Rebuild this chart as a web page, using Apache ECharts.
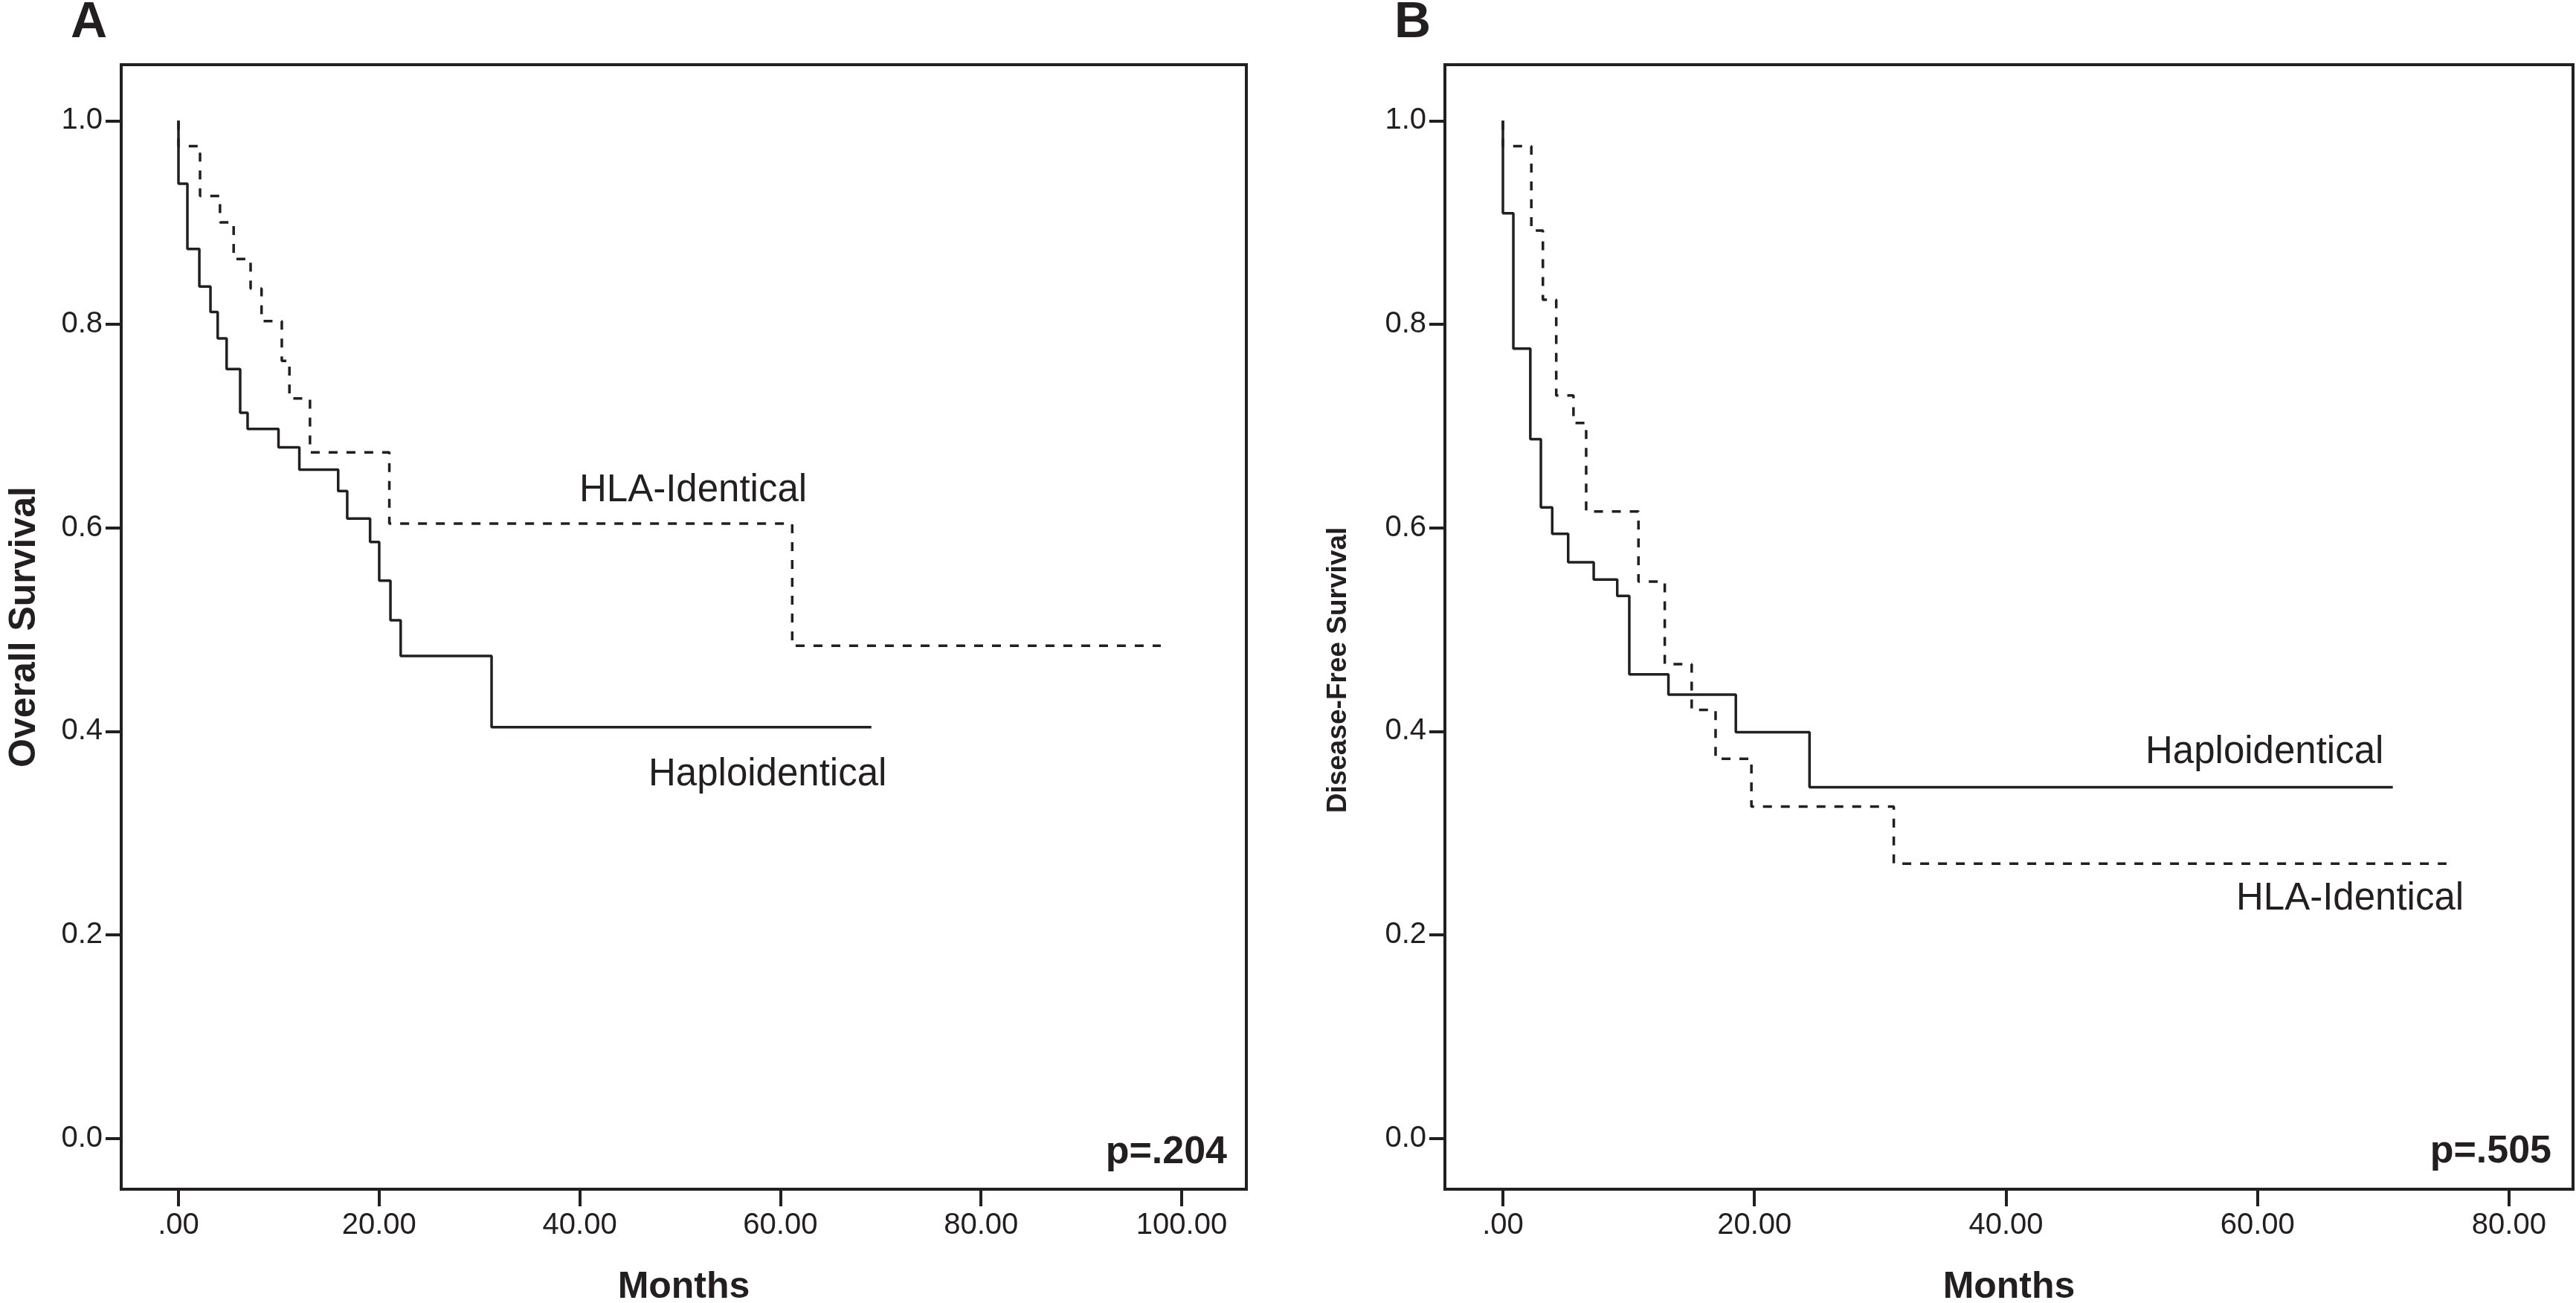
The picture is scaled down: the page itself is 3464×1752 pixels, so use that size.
<!DOCTYPE html>
<html>
<head>
<meta charset="utf-8">
<title>Overall and disease-free survival</title>
<script src="https://cdn.jsdelivr.net/npm/echarts@6/dist/echarts.min.js"></script>
<style>
  html, body { margin: 0; padding: 0; background: #fff; }
  #chart { width: 3464px; height: 1752px; }
</style>
</head>
<body>
<div id="chart"></div>
<script>
// Panel A: overall survival (months, survival probability)
const osHaploTime = [0, 0, 0.89, 2.08, 3.19, 3.91, 4.80, 6.15, 6.89, 9.97, 12.05, 15.92, 16.82, 19.10, 20.01, 21.13, 22.15, 31.21, 69.07]
const osHaploSurv = [1.0, 0.938, 0.874, 0.837, 0.812, 0.786, 0.756, 0.713, 0.697, 0.679, 0.657, 0.636, 0.609, 0.586, 0.548, 0.509, 0.474, 0.404, 0.404]
const osHlaTime = [0, 0, 2.15, 4.14, 5.50, 7.19, 8.28, 10.30, 11.06, 13.11, 21.02, 61.18, 97.92]
const osHlaSurv = [1.0, 0.975, 0.926, 0.900, 0.864, 0.835, 0.803, 0.764, 0.727, 0.674, 0.604, 0.484, 0.484]

// Panel B: disease-free survival
const dfsHaploTime = [0, 0, 0.83, 2.18, 3.02, 3.92, 5.19, 7.22, 9.09, 10.05, 13.16, 18.52, 24.38, 70.76]
const dfsHaploSurv = [1.0, 0.909, 0.776, 0.687, 0.620, 0.594, 0.566, 0.549, 0.533, 0.456, 0.436, 0.399, 0.345, 0.345]
const dfsHlaTime = [0, 0, 2.26, 3.18, 4.24, 5.61, 6.62, 10.78, 12.87, 15.01, 16.91, 19.76, 31.08, 75.03]
const dfsHlaSurv = [1.0, 0.975, 0.892, 0.824, 0.730, 0.703, 0.616, 0.547, 0.466, 0.421, 0.373, 0.326, 0.270, 0.270]

const osTicks = [0, 20, 40, 60, 80, 100]
const dfsTicks = [0, 20, 40, 60, 80]
const survTicks = [0, 0.2, 0.4, 0.6, 0.8, 1.0]

const INK = '#231f20'
const FONT = 'Liberation Sans, Arial, Helvetica, sans-serif'

function pairs(times, surv) {
  return times.map((t, i) => [t, surv[i]])
}

function monthLabel(v) {
  return v.toFixed(2).replace(/^0\./, '.')
}

function xAxisFor(gridIndex, min, max, ticks) {
  return {
    type: 'value',
    gridIndex,
    min,
    max,
    name: 'Months',
    nameLocation: 'middle',
    nameGap: 107,
    nameTextStyle: { color: INK, fontFamily: FONT, fontSize: 50, fontWeight: 'bold' },
    axisLine: { show: false, onZero: false },
    axisTick: { show: true, length: 23, customValues: ticks, lineStyle: { color: INK, width: 4 } },
    axisLabel: {
      margin: 29,
      customValues: ticks,
      color: INK,
      fontFamily: FONT,
      fontSize: 40,
      formatter: monthLabel,
    },
    splitLine: { show: false },
  }
}

function yAxisFor(gridIndex, name, nameGap, fontSize, padding) {
  return {
    type: 'value',
    gridIndex,
    min: -0.05,
    max: 1.055,
    name,
    nameLocation: 'middle',
    nameGap,
    nameTextStyle: { color: INK, fontFamily: FONT, fontSize, fontWeight: 'bold', padding },
    axisLine: { show: false, onZero: false },
    axisTick: { show: true, length: 21, customValues: survTicks, lineStyle: { color: INK, width: 4 } },
    axisLabel: {
      margin: 25,
      customValues: survTicks,
      color: INK,
      fontFamily: FONT,
      fontSize: 40,
      formatter: v => v.toFixed(1),
    },
    splitLine: { show: false },
  }
}

function curve(name, idx, data, dashed) {
  return {
    name,
    type: 'line',
    xAxisIndex: idx,
    yAxisIndex: idx,
    step: 'end',
    data,
    showSymbol: false,
    symbol: 'none',
    silent: true,
    lineStyle: {
      color: INK,
      width: 3.5,
      type: dashed ? [12, 12] : 'solid',
      cap: 'butt',
    },
  }
}

function label(text, x, y, opts) {
  opts = opts || {}
  return {
    type: 'text',
    silent: true,
    style: {
      text,
      x,
      y,
      fill: INK,
      font: (opts.bold ? 'bold ' : '') + (opts.size || 51) + 'px ' + FONT,
      align: opts.align || 'left',
      textAlign: opts.align || 'left',
      verticalAlign: 'middle',
      textVerticalAlign: 'middle',
    },
  }
}

const chart = echarts.init(document.getElementById('chart'), null, { renderer: 'canvas' })

chart.setOption({
  backgroundColor: '#ffffff',
  animation: false,
  grid: [
    {
      left: 163, top: 87, width: 1513, height: 1512,
      show: true, borderColor: INK, borderWidth: 4, backgroundColor: '#ffffff',
      outerBoundsMode: 'none',
    },
    {
      left: 1943, top: 87, width: 1517, height: 1512,
      show: true, borderColor: INK, borderWidth: 4, backgroundColor: '#ffffff',
      outerBoundsMode: 'none',
    },
  ],
  xAxis: [
    xAxisFor(0, -5.708, 106.45, osTicks),
    xAxisFor(1, -4.612, 85.09, dfsTicks),
  ],
  yAxis: [
    yAxisFor(0, 'Overall Survival', 105, 50, 0),
    yAxisFor(1, 'Disease-Free Survival', 125, 37, [0, 116, 0, 0]),
  ],
  series: [
    curve('Haploidentical', 0, pairs(osHaploTime, osHaploSurv), false),
    curve('HLA-Identical', 0, pairs(osHlaTime, osHlaSurv), true),
    curve('Haploidentical', 1, pairs(dfsHaploTime, dfsHaploSurv), false),
    curve('HLA-Identical', 1, pairs(dfsHlaTime, dfsHlaSurv), true),
  ],
  graphic: [
    label('A', 95, 31, { bold: true, size: 68 }),
    label('B', 1875, 31, { bold: true, size: 68 }),
    label('HLA-Identical', 779, 660),
    label('Haploidentical', 872, 1042),
    label('p=.204', 1650, 1550, { bold: true, size: 52, align: 'right' }),
    label('Haploidentical', 2885, 1012),
    label('HLA-Identical', 3007, 1209),
    label('p=.505', 3431, 1549, { bold: true, size: 52, align: 'right' }),
  ],
})
</script>
</body>
</html>
